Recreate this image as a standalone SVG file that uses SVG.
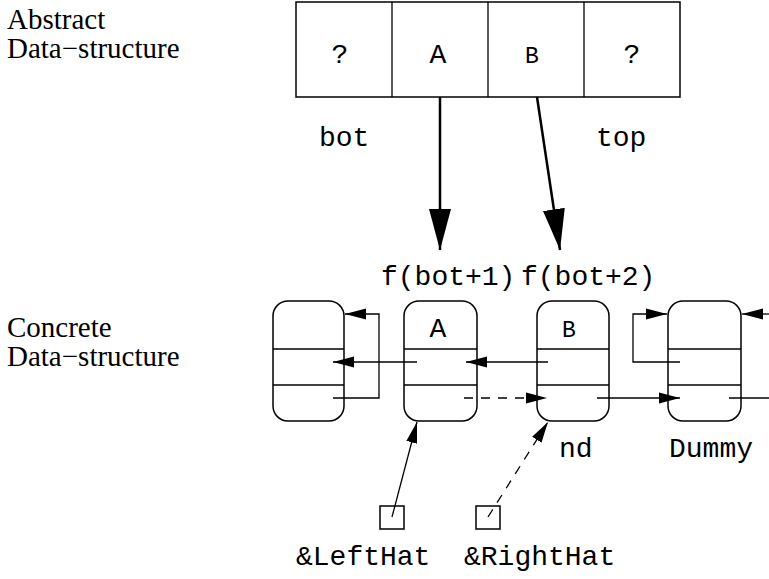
<svg xmlns="http://www.w3.org/2000/svg" width="769" height="579" viewBox="0 0 769 579">
<style>
.serif{font-family:"Liberation Serif","Times New Roman",serif;font-size:29px;fill:#000}
.mono{font-family:"Liberation Mono","Courier New",monospace;font-size:28px;fill:#000}
.box{fill:#fff;stroke:#000;stroke-width:1.5}
.ln{fill:none;stroke:#000;stroke-width:1.3}
.thick{fill:none;stroke:#000;stroke-width:2.5}
.dash{stroke-dasharray:9 8}
</style>
<defs>
<marker id="ah" markerUnits="userSpaceOnUse" markerWidth="22" markerHeight="12" refX="21" refY="5.5" orient="auto" viewBox="0 0 22 11">
<path d="M0,0 L21,5.5 L0,11 z" fill="#000"/>
</marker>
<marker id="big" markerUnits="userSpaceOnUse" markerWidth="42" markerHeight="22" refX="41" refY="11" orient="auto" viewBox="0 0 42 22">
<path d="M0,0 L41,11 L0,22 z" fill="#000"/>
</marker>
</defs>
<rect width="769" height="579" fill="#fff"/>

<g id="labels">
<text class="serif" x="7" y="29">Abstract</text>
<text class="serif" x="7" y="58">Data−structure</text>
<text class="serif" x="7" y="337">Concrete</text>
<text class="serif" x="7" y="366">Data−structure</text>
</g>

<g id="array">
<rect class="box" x="296" y="2" width="384" height="95"/>
<line class="ln" x1="392" y1="2" x2="392" y2="97"/>
<line class="ln" x1="488" y1="2" x2="488" y2="97"/>
<line class="ln" x1="584" y1="2" x2="584" y2="97"/>
<text class="mono" x="340" y="63" text-anchor="middle">?</text>
<text class="mono" x="438" y="63" text-anchor="middle">A</text>
<text class="mono" x="532" y="63" text-anchor="middle" style="font-size:23px">B</text>
<text class="mono" x="632" y="63" text-anchor="middle">?</text>
<text class="mono" x="319" y="146">bot</text>
<text class="mono" x="596" y="146">top</text>
</g>

<g id="node1">
<rect class="box" x="273" y="301" width="71" height="120" rx="15"/>
<line class="ln" x1="273" y1="349" x2="344" y2="349"/>
<line class="ln" x1="273" y1="385" x2="344" y2="385"/>
</g>
<g id="nodeA">
<rect class="box" x="404" y="301" width="73" height="120" rx="15"/>
<line class="ln" x1="404" y1="349" x2="477" y2="349"/>
<line class="ln" x1="404" y1="385" x2="477" y2="385"/>
<text class="mono" x="438" y="337" text-anchor="middle">A</text>
<text class="mono" x="381" y="285">f(bot+1)</text>
</g>
<g id="nodeB">
<rect class="box" x="537" y="301" width="72" height="120" rx="15"/>
<line class="ln" x1="537" y1="349" x2="609" y2="349"/>
<line class="ln" x1="537" y1="385" x2="609" y2="385"/>
<text class="mono" x="569" y="337" text-anchor="middle" style="font-size:23px">B</text>
<text class="mono" x="521" y="285">f(bot+2)</text>
<text class="mono" x="559" y="457">nd</text>
</g>
<g id="dummy">
<rect class="box" x="668" y="301" width="73" height="120" rx="15"/>
<line class="ln" x1="668" y1="349" x2="741" y2="349"/>
<line class="ln" x1="668" y1="385" x2="741" y2="385"/>
<text class="mono" x="669" y="457">Dummy</text>
</g>
<g id="lefthat">
<rect class="box" x="380" y="506" width="24" height="23"/>
<text class="mono" x="296" y="565">&amp;LeftHat</text>
</g>
<g id="righthat">
<rect class="box" x="476" y="506" width="24" height="23"/>
<text class="mono" x="464" y="565">&amp;RightHat</text>
</g>

<g id="connectors">
<line class="thick" x1="440" y1="97" x2="440" y2="250" marker-end="url(#big)"/>
<line class="thick" x1="537" y1="97" x2="560" y2="250" marker-end="url(#big)"/>
<polyline class="ln" points="333,398 379,398 379,314 345,314" marker-end="url(#ah)"/>
<line class="ln" x1="417" y1="362" x2="333" y2="362" marker-end="url(#ah)"/>
<line class="ln" x1="548" y1="362" x2="466" y2="362" marker-end="url(#ah)"/>
<line class="ln dash" x1="464" y1="398" x2="547" y2="398" marker-end="url(#ah)"/>
<line class="ln" x1="597" y1="398" x2="680" y2="398" marker-end="url(#ah)"/>
<polyline class="ln" points="680,362 633,362 633,314 667,314" marker-end="url(#ah)"/>
<line class="ln" x1="769" y1="314" x2="742" y2="314" marker-end="url(#ah)"/>
<line class="ln" x1="729" y1="398" x2="769" y2="398"/>
<line class="ln" x1="392" y1="517" x2="417" y2="422" marker-end="url(#ah)"/>
<line class="ln dash" x1="488" y1="517" x2="548" y2="422" marker-end="url(#ah)"/>
</g>
</svg>
